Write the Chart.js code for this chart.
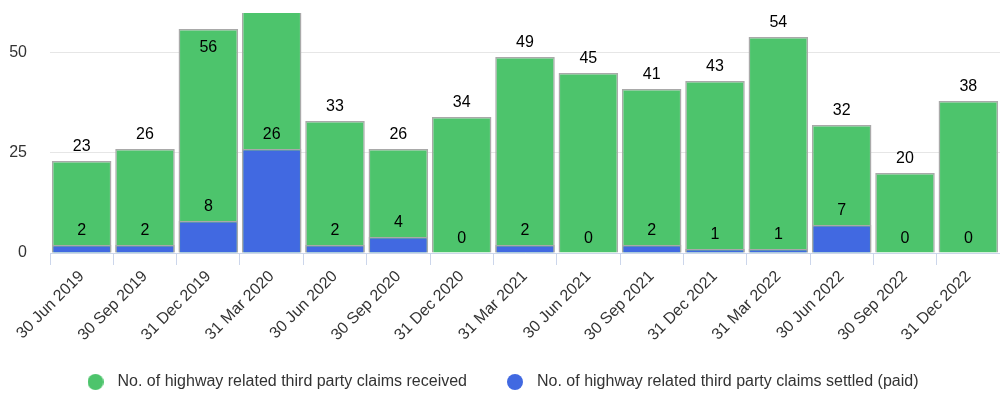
<!DOCTYPE html>
<html>
<head>
<meta charset="utf-8">
<script src="https://cdn.jsdelivr.net/npm/chart.js@4/dist/chart.umd.min.js"></script>
<style>
  html, body { margin: 0; padding: 0; background: #fff; }
  #wrap { width: 1000px; height: 396px; }
</style>
</head>
<body>
<div id="wrap"><canvas id="claimsChart"></canvas></div>
<script>
const quarters = ['30 Jun 2019', '30 Sep 2019', '31 Dec 2019', '31 Mar 2020', '30 Jun 2020', '30 Sep 2020',
    '31 Dec 2020', '31 Mar 2021', '30 Jun 2021', '30 Sep 2021', '31 Dec 2021', '31 Mar 2022',
    '30 Jun 2022', '30 Sep 2022', '31 Dec 2022'];
const claimsReceived = [23, 26, 56, 62, 33, 26, 34, 49, 45, 41, 43, 54, 32, 20, 38];
const claimsSettled = [2, 2, 8, 26, 2, 4, 0, 2, 0, 2, 1, 1, 7, 0, 0];
const yTicks = [0, 25, 50];
const yMax = 60;

const GREEN = '#4dc46c';
const BLUE = '#4169e1';
const FONT = 'Arial, "Liberation Sans", sans-serif';

// small round markers for the legend
const makeDot = (color) => {
    const c = document.createElement('canvas');
    c.width = 16;
    c.height = 16;
    const g = c.getContext('2d');
    g.fillStyle = color;
    g.beginPath();
    g.arc(8, 8, 8, 0, Math.PI * 2);
    g.fill();
    return c;
};

// value labels, drawn above each bar (inside when there is no room)
const barLabels = {
    id: 'barLabels',
    afterDatasetsDraw(chart) {
        const ctx = chart.ctx;
        const area = chart.chartArea;
        ctx.save();
        ctx.font = '16px ' + FONT;
        ctx.fillStyle = '#000';
        ctx.textAlign = 'center';
        ctx.textBaseline = 'middle';
        chart.data.datasets.forEach((ds, i) => {
            chart.getDatasetMeta(i).data.forEach((bar, j) => {
                if (ds.data[j] > yMax) return;
                let y = bar.y - 14;
                if (y - 8 < area.top) y = bar.y + 19;
                ctx.fillText(String(ds.data[j]), bar.x, y);
            });
        });
        ctx.restore();
    }
};

// keep the legend a fixed height even with wide item spacing
const legendHeight = {
    id: 'legendHeight',
    beforeLayout(chart) {
        const lg = chart.legend;
        if (lg && !lg._fixed) {
            const fit = lg.fit;
            lg.fit = function () {
                fit.call(this);
                this.height = 56;
            };
            lg._fixed = true;
        }
    }
};

new Chart(document.getElementById('claimsChart'), {
    type: 'bar',
    data: {
        labels: quarters,
        datasets: [
            {
                label: 'No. of highway related third party claims settled (paid)',
                data: claimsSettled,
                backgroundColor: BLUE,
                borderColor: '#a9a9a9',
                borderWidth: 1.5,
                order: 0
            },
            {
                label: 'No. of highway related third party claims received',
                data: claimsReceived,
                backgroundColor: GREEN,
                borderColor: '#a9a9a9',
                borderWidth: 1.5,
                order: 1
            }
        ]
    },
    options: {
        responsive: true,
        maintainAspectRatio: false,
        animation: false,
        layout: { padding: { top: 13, right: 0, left: 0, bottom: 0 } },
        datasets: {
            bar: { grouped: false, categoryPercentage: 1, barPercentage: 0.94 }
        },
        scales: {
            x: {
                afterFit: (scale) => { scale.height = 87; },
                grid: {
                    offset: true,
                    drawOnChartArea: false,
                    color: '#ccd6eb',
                    tickLength: 12
                },
                border: { color: '#ccd6eb' },
                ticks: {
                    color: '#333',
                    font: { size: 16, family: FONT },
                    maxRotation: 45,
                    minRotation: 45,
                    padding: 2
                }
            },
            y: {
                min: 0,
                max: yMax,
                afterBuildTicks: (scale) => {
                    scale.ticks = yTicks.map(v => ({ value: v }));
                },
                afterFit: (scale) => {
                    scale.width = 50;
                    scale.paddingTop = 0;
                    scale.paddingBottom = 0;
                },
                grid: { color: '#e6e6e6', drawTicks: false },
                border: { display: false },
                ticks: {
                    color: '#333',
                    padding: 23,
                    font: { size: 16, family: FONT }
                }
            }
        },
        plugins: {
            tooltip: { enabled: false },
            legend: {
                position: 'bottom',
                reverse: true,
                labels: {
                    color: '#333',
                    font: { size: 16, family: FONT },
                    usePointStyle: true,
                    pointStyleWidth: 28,
                    boxHeight: 16,
                    padding: 34,
                    generateLabels: (chart) => chart.data.datasets.map((ds, i) => ({
                        text: ds.label,
                        fillStyle: ds.backgroundColor,
                        strokeStyle: ds.backgroundColor,
                        lineWidth: 0,
                        pointStyle: makeDot(ds.backgroundColor),
                        fontColor: '#333',
                        datasetIndex: i
                    }))
                }
            }
        }
    },
    plugins: [barLabels, legendHeight]
});
</script>
</body>
</html>
